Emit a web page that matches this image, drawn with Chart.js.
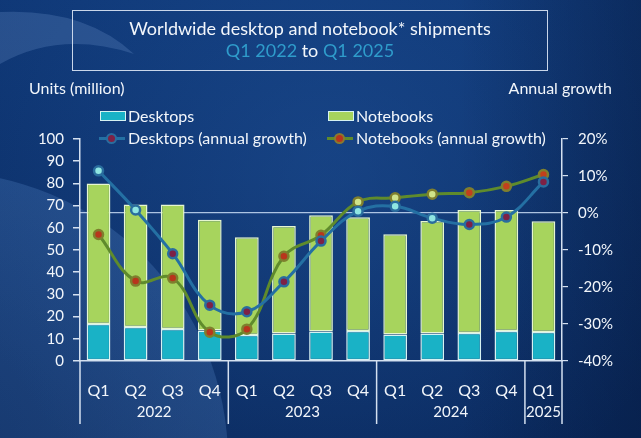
<!DOCTYPE html>
<html>
<head>
<meta charset="utf-8">
<script src="https://cdn.jsdelivr.net/npm/chart.js@4.4.1/dist/chart.umd.min.js"></script>
<style>
  html, body { margin: 0; padding: 0; width: 641px; height: 438px; overflow: hidden; background: #0c2f68; }
  body { font-family: Lato, "Open Sans", sans-serif; color: #f2f6fb; }
  #wrap { position: relative; width: 641px; height: 438px; }
  #chart { position: absolute; left: 0; top: 0; }
  .abs { position: absolute; white-space: nowrap; }
  #titlebox { left: 72px; top: 10px; width: 476px; height: 61px; box-sizing: border-box; border: 1.5px solid #c9d6ea;
              text-align: center; font-size: 18px; line-height: 22px; padding-top: 6px; }
  .hl { color: #2f9ccb; }
  .axt { font-size: 16px; line-height: 20px; top: 78px; }
  .leg { font-size: 16px; line-height: 20px; }
  .box { position: absolute; width: 24px; height: 8px; border: 1px solid #d6f2f2; }
  .ln { position: absolute; width: 26px; height: 3px; }
  .dot { position: absolute; width: 7px; height: 7px; border-radius: 50%; }
</style>
</head>
<body>
<div id="wrap">
  <canvas id="chart" width="641" height="438"></canvas>
  <div id="titlebox" class="abs">Worldwide desktop and notebook* shipments<br><span class="hl">Q1 2022</span> to <span class="hl">Q1 2025</span></div>
  <div class="abs axt" style="left:29px">Units (million)</div>
  <div class="abs axt" style="right:29px">Annual growth</div>

  <div class="box" style="left:100px;top:111px;background:#19b2c6"></div>
  <div class="abs leg" style="left:128px;top:106px">Desktops</div>
  <div class="box" style="left:328px;top:111px;background:#a7d45d"></div>
  <div class="abs leg" style="left:356px;top:106px">Notebooks</div>

  <div class="ln" style="left:99px;top:137px;background:#2470a3"></div>
  <div class="dot" style="left:108px;top:135px;background:#7e2145;box-shadow:0 0 0 2px #2a6d9e"></div>
  <div class="abs leg" style="left:128px;top:128px">Desktops (annual growth)</div>
  <div class="ln" style="left:327px;top:137px;background:#5f8b2c"></div>
  <div class="dot" style="left:336px;top:135px;background:#b8361c;box-shadow:0 0 0 2px #8a7a2e"></div>
  <div class="abs leg" style="left:356px;top:128px">Notebooks (annual growth)</div>
</div>
<script>
// data
const quarters = ['Q1', 'Q2', 'Q3', 'Q4', 'Q1', 'Q2', 'Q3', 'Q4', 'Q1', 'Q2', 'Q3', 'Q4', 'Q1'];
const years = ['2022', '2022', '2022', '2022', '2023', '2023', '2023', '2023', '2024', '2024', '2024', '2024', '2025'];
const desktops = [16.7, 15.3, 14.4, 13.7, 11.7, 12.4, 13.3, 13.5, 11.9, 12.4, 12.6, 13.5, 13.1];
const notebooks = [63.3, 55.2, 56.1, 49.9, 44.0, 48.4, 52.4, 51.3, 45.2, 50.7, 55.4, 54.5, 49.8];
const desktopGrowth = [11.4, 0.8, -11.0, -24.9, -26.7, -18.6, -7.6, 0.5, 1.8, -1.4, -3.1, -1.1, 8.4];
const notebookGrowth = [-5.8, -18.4, -17.6, -32.2, -31.4, -11.7, -6.0, 3.0, 4.1, 5.1, 5.5, 7.2, 10.4];
const unitTicks = [0, 10, 20, 30, 40, 50, 60, 70, 80, 90, 100];
const growthTicks = [-40, -30, -20, -10, 0, 10, 20];

const textColor = '#f2f6fb';
const axisColor = '#d4e0f0';
const tickFont = { family: 'Lato', size: 15 };

// dot centres differ point by point in the original
const deskDots = ['#8fe6e2', '#8fe6e2', '#7e2145', '#7e2145', '#7e2145', '#7e2145', '#7e2145',
                  '#8fe6e2', '#8fe6e2', '#8fe6e2', '#7e2145', '#7e2145', '#7e2145'];
const noteDots = ['#b8361c', '#b8361c', '#b8361c', '#b8361c', '#b8361c', '#b8361c', '#b8361c',
                  '#cfe38a', '#cfe38a', '#cfe38a', '#c2401c', '#c2401c', '#c2401c'];

const bgPlugin = {
    id: 'bg',
    beforeDraw(chart) {
        const { ctx, width, height } = chart;
        ctx.save();
        let g = ctx.createLinearGradient(0, 0, 0, height);
        g.addColorStop(0, '#0f3877');
        g.addColorStop(1, '#0a2a5f');
        ctx.fillStyle = g;
        ctx.fillRect(0, 0, width, height);

        g = ctx.createRadialGradient(330, 170, 20, 330, 170, 380);
        g.addColorStop(0, 'rgba(40,95,170,0.35)');
        g.addColorStop(1, 'rgba(40,95,170,0)');
        ctx.fillStyle = g;
        ctx.fillRect(0, 0, width, height);

        g = ctx.createLinearGradient(460, 0, width, 0);
        g.addColorStop(0, 'rgba(4,18,48,0)');
        g.addColorStop(1, 'rgba(4,18,48,0.35)');
        ctx.fillStyle = g;
        ctx.fillRect(0, 0, width, height);

        // light disc bottom left
        g = ctx.createRadialGradient(-60, 460, 40, -60, 460, 288);
        g.addColorStop(0, 'rgba(90,140,205,0.16)');
        g.addColorStop(1, 'rgba(90,140,205,0.26)');
        ctx.fillStyle = g;
        ctx.beginPath();
        ctx.arc(-60, 460, 288, 0, Math.PI * 2);
        ctx.fill();

        // crescent top left
        ctx.fillStyle = 'rgba(120,160,215,0.24)';
        ctx.beginPath();
        ctx.moveTo(0, 12);
        ctx.quadraticCurveTo(85, 8, 134, 54);
        ctx.quadraticCurveTo(60, 30, 0, 64);
        ctx.closePath();
        ctx.fill();
        ctx.restore();
    }
};

const yearPlugin = {
    id: 'years',
    afterDraw(chart) {
        const { ctx, chartArea, scales: { x } } = chart;
        ctx.save();
        ctx.strokeStyle = axisColor;
        ctx.lineWidth = 1.5;
        ctx.fillStyle = textColor;
        ctx.font = '15px Lato';
        ctx.textAlign = 'center';
        ctx.textBaseline = 'middle';
        const sep = xx => {
            ctx.beginPath();
            ctx.moveTo(xx, chartArea.bottom);
            ctx.lineTo(xx, chartArea.bottom + 63);
            ctx.stroke();
        };
        let start = 0;
        for (let i = 1; i <= years.length; i++) {
            if (i === years.length || years[i] !== years[start]) {
                const left = start === 0 ? chartArea.left
                    : (x.getPixelForValue(start - 1) + x.getPixelForValue(start)) / 2;
                const right = i === years.length ? chartArea.right
                    : (x.getPixelForValue(i - 1) + x.getPixelForValue(i)) / 2;
                sep(left);
                if (i === years.length) sep(right);
                ctx.fillText(years[start], (left + right) / 2, chartArea.bottom + 51);
                start = i;
            }
        }
        ctx.restore();
    }
};

const chart = new Chart(document.getElementById('chart').getContext('2d'), {
    type: 'bar',
    data: {
        labels: quarters,
        datasets: [
            {
                label: 'Desktops (annual growth)',
                type: 'line',
                data: desktopGrowth,
                yAxisID: 'y2',
                borderColor: '#2470a3',
                borderWidth: 3,
                tension: 0.4,
                pointRadius: 4.5,
                pointBorderWidth: 2.5,
                pointBorderColor: '#2a6d9e',
                pointBackgroundColor: deskDots,
                order: 0
            },
            {
                label: 'Notebooks (annual growth)',
                type: 'line',
                data: notebookGrowth,
                yAxisID: 'y2',
                borderColor: '#5f8b2c',
                borderWidth: 3,
                tension: 0.4,
                pointRadius: 4.5,
                pointBorderWidth: 2.5,
                pointBorderColor: '#7f7f2e',
                pointBackgroundColor: noteDots,
                order: 0
            },
            {
                label: 'Desktops',
                data: desktops,
                backgroundColor: '#19b2c6',
                borderColor: '#d6f2f2',
                borderWidth: 1.5,
                borderSkipped: false,
                barPercentage: 0.64,
                categoryPercentage: 1,
                order: 1
            },
            {
                label: 'Notebooks',
                data: notebooks,
                backgroundColor: '#a7d45d',
                borderColor: '#e6f6d0',
                borderWidth: 1.5,
                borderSkipped: false,
                barPercentage: 0.64,
                categoryPercentage: 1,
                order: 1
            }
        ]
    },
    options: {
        responsive: false,
        animation: false,
        layout: { padding: { top: 139, left: 0, right: 0, bottom: 0 } },
        plugins: { legend: { display: false }, tooltip: { enabled: false } },
        scales: {
            x: {
                stacked: true,
                afterFit: s => { s.height = 77; },
                grid: { display: false },
                border: { color: axisColor, width: 1.5 },
                ticks: { color: textColor, font: { family: 'Lato', size: 16 }, padding: 12 }
            },
            y: {
                stacked: true,
                position: 'left',
                min: 0,
                max: 100,
                afterFit: s => { s.width = 80; },
                afterBuildTicks: s => { s.ticks = unitTicks.map(v => ({ value: v })); },
                grid: { drawOnChartArea: false, color: axisColor, tickLength: 7, lineWidth: 1.5 },
                border: { color: axisColor, width: 1.5 },
                ticks: { color: textColor, font: tickFont, padding: 9 }
            },
            y2: {
                position: 'right',
                min: -40,
                max: 20,
                z: 1,
                afterFit: s => { s.width = 79; },
                afterBuildTicks: s => { s.ticks = growthTicks.map(v => ({ value: v })); },
                grid: {
                    color: c => (c.tick && c.tick.value === 0) ? 'rgba(200,220,245,0.85)' : 'rgba(0,0,0,0)',
                    tickColor: axisColor,
                    tickLength: 6,
                    lineWidth: 1.2
                },
                border: { color: axisColor, width: 1.5 },
                ticks: { color: textColor, font: tickFont, padding: 10, callback: v => v + '%' }
            }
        }
    },
    plugins: [bgPlugin, yearPlugin]
});
</script>
</body>
</html>
